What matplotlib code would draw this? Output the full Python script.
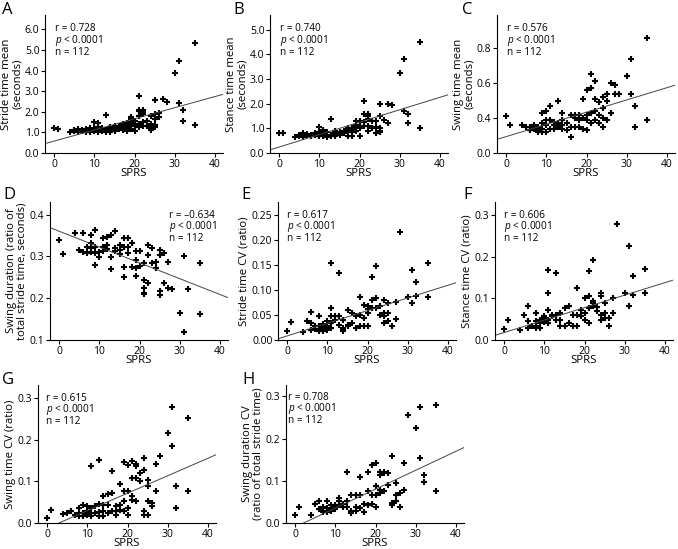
import numpy as np
import matplotlib
matplotlib.use('Agg')
import matplotlib.pyplot as plt

plt.rcParams['font.family'] = ['Open Sans', 'DejaVu Sans']
plt.rcParams['mathtext.fontset'] = 'custom'
plt.rcParams['mathtext.rm'] = 'Open Sans'
plt.rcParams['mathtext.it'] = 'Open Sans:italic'

##################### Data #####################

# A - stride time mean
A_x = [0, 1, 4, 5, 5, 6, 6, 6, 7, 7, 8, 8, 8, 8, 9, 9, 9, 9, 10, 10, 10, 10, 10,
       11, 11, 11, 11, 11, 12, 12, 12, 12, 13, 13, 13, 13, 14, 14, 14, 14, 14, 15, 15, 15, 15,
       16, 16, 16, 16, 17, 17, 17, 17, 18, 18, 18, 18, 18, 19, 19, 19, 19, 19, 20, 20, 20, 20,
       21, 21, 21, 21, 21, 21, 22, 22, 22, 22, 22, 23, 23, 24, 24, 24, 24, 25, 25, 25, 25, 25,
       26, 26, 27, 28, 30, 31, 31, 32, 32, 35, 35]
A_y = [1.2, 1.18, 1.02, 1.05, 1.12, 1.0, 1.08, 1.15, 1.05, 1.12, 1.0, 1.1, 1.05, 1.15, 1.08, 1.15, 1.02, 1.2, 1.1, 1.2, 1.5, 1.05, 1.15,
       1.15, 1.45, 1.08, 1.25, 1.02, 1.1, 1.05, 1.2, 1.15, 1.85, 1.12, 1.0, 1.05, 1.05, 1.15, 1.25, 1.1, 1.0, 1.1, 1.2, 1.05, 1.3,
       1.15, 1.25, 1.3, 1.2, 1.2, 1.4, 1.1, 1.3, 1.3, 1.05, 1.45, 1.2, 1.15, 1.65, 1.75, 1.5, 1.15, 1.4, 1.05, 1.4, 1.55, 1.3,
       2.75, 2.1, 1.8, 1.4, 1.25, 2.05, 2.0, 2.1, 1.9, 1.5, 1.3, 1.3, 1.55, 1.8, 1.4, 1.2, 1.1, 2.55, 1.25, 1.65, 1.9, 1.35,
       1.95, 1.75, 2.6, 2.5, 3.9, 4.45, 2.45, 2.1, 1.55, 5.35, 1.35]

# B - stance time mean
B_x = [0, 1, 4, 5, 5, 6, 6, 6, 7, 7, 8, 8, 8, 9, 9, 9, 10, 10, 10, 10,
       11, 11, 11, 11, 12, 12, 12, 13, 13, 13, 14, 14, 14, 14, 15, 15, 15, 16, 16, 16,
       17, 17, 17, 18, 18, 18, 18, 19, 19, 19, 19, 20, 20, 20, 20, 21, 21, 21, 21,
       22, 22, 22, 22, 22, 23, 23, 24, 24, 24, 25, 25, 25, 25, 25, 26, 27, 27, 28,
       30, 31, 31, 32, 32, 35, 35]
B_y = [0.8, 0.8, 0.65, 0.75, 0.7, 0.65, 0.75, 0.8, 0.72, 0.78, 0.7, 0.75, 0.68, 0.75, 0.8, 0.72, 1.05, 0.75, 0.85, 0.7,
       0.95, 0.8, 0.7, 0.75, 0.75, 0.65, 0.85, 1.38, 0.7, 0.75, 0.75, 0.9, 0.8, 0.7, 0.8, 0.85, 0.75, 0.85, 0.9, 0.8,
       0.95, 0.7, 1.0, 1.0, 0.95, 0.7, 0.85, 1.3, 1.15, 1.05, 0.9, 1.3, 1.0, 0.7, 1.1, 2.1, 1.6, 1.25, 1.1,
       1.6, 1.4, 1.5, 0.9, 1.1, 1.0, 1.3, 1.05, 0.8, 1.3, 2.0, 1.5, 0.9, 0.85, 1.0, 1.35, 2.0, 1.2, 1.95,
       3.25, 3.8, 1.7, 1.6, 1.2, 4.5, 1.0]

# C - swing time mean
C_x = [0, 1, 4, 5, 6, 6, 6, 7, 7, 8, 8, 8, 9, 9, 9, 9, 10, 10, 10, 10, 11, 11, 11,
       12, 12, 12, 13, 13, 13, 14, 14, 14, 14, 15, 15, 16, 16, 16, 17, 17, 17, 18, 18, 18,
       19, 19, 19, 20, 20, 20, 20, 21, 21, 21, 21, 22, 22, 22, 22, 23, 23, 23, 24, 24, 24, 24,
       25, 25, 25, 26, 26, 27, 27, 28, 30, 31, 31, 32, 32, 35, 35]
C_y = [0.41, 0.36, 0.36, 0.35, 0.33, 0.33, 0.35, 0.34, 0.36, 0.32, 0.35, 0.33, 0.43, 0.34, 0.37, 0.32,
       0.44, 0.36, 0.39, 0.32, 0.47, 0.39, 0.34, 0.38, 0.34, 0.36, 0.50, 0.35, 0.37, 0.43, 0.39, 0.34, 0.36,
       0.37, 0.33, 0.29, 0.42, 0.35, 0.42, 0.40, 0.35, 0.42, 0.39, 0.35, 0.51, 0.40, 0.34,
       0.56, 0.33, 0.42, 0.39, 0.57, 0.65, 0.43, 0.37, 0.61, 0.51, 0.44, 0.39, 0.49, 0.42, 0.37,
       0.46, 0.35, 0.40, 0.52, 0.54, 0.50, 0.39, 0.60, 0.43, 0.59, 0.54, 0.54, 0.64, 0.74, 0.54,
       0.47, 0.35, 0.86, 0.39]

# D - swing duration ratio
D_x = [0, 1, 4, 5, 6, 6, 7, 7, 8, 8, 8, 8, 9, 9, 9, 9, 10, 10, 11, 11, 11, 12, 12, 12,
       13, 13, 13, 14, 14, 14, 15, 15, 15, 16, 16, 16, 16, 17, 17, 17, 18, 18, 19, 19, 19, 19,
       20, 20, 21, 21, 21, 21, 21, 22, 22, 22, 23, 23, 24, 24, 25, 25, 25, 25, 26, 26,
       27, 27, 28, 30, 31, 31, 32, 35, 35]
D_y = [0.339, 0.306, 0.356, 0.315, 0.355, 0.311, 0.307, 0.323, 0.331, 0.319, 0.311, 0.351,
       0.363, 0.279, 0.323, 0.307, 0.298, 0.311, 0.343, 0.323, 0.313, 0.347, 0.327, 0.317,
       0.351, 0.269, 0.299, 0.361, 0.319, 0.313, 0.315, 0.327, 0.306, 0.274, 0.250, 0.345, 0.323,
       0.343, 0.323, 0.307, 0.333, 0.275, 0.291, 0.252, 0.313, 0.271, 0.313, 0.277,
       0.285, 0.244, 0.224, 0.212, 0.210, 0.327, 0.303, 0.236, 0.319, 0.285, 0.287, 0.271,
       0.315, 0.216, 0.208, 0.303, 0.307, 0.236, 0.287, 0.224, 0.221, 0.164, 0.301, 0.119,
       0.222, 0.283, 0.162]

# E - stride time CV
E_x = [0, 1, 4, 5, 6, 6, 6, 7, 7, 8, 8, 8, 8, 9, 9, 9, 10, 10, 10, 11, 11, 11, 11, 11,
       12, 12, 13, 13, 13, 14, 14, 14, 14, 15, 15, 15, 16, 16, 17, 17, 18, 18, 18, 19, 19, 19,
       20, 20, 20, 20, 21, 21, 21, 22, 22, 22, 23, 23, 24, 24, 24, 24, 25, 25, 25, 26,
       27, 27, 28, 30, 31, 31, 32, 32, 35, 35]
E_y = [0.018, 0.036, 0.016, 0.038, 0.056, 0.034, 0.021, 0.029, 0.023, 0.048, 0.028, 0.021, 0.018,
       0.033, 0.025, 0.018, 0.038, 0.028, 0.021, 0.154, 0.064, 0.048, 0.034, 0.025, 0.041, 0.049,
       0.135, 0.048, 0.031, 0.025, 0.018, 0.041, 0.021, 0.061, 0.031, 0.028, 0.054, 0.034,
       0.048, 0.025, 0.086, 0.051, 0.028, 0.071, 0.044, 0.028, 0.069, 0.054, 0.028, 0.062,
       0.127, 0.081, 0.064, 0.149, 0.064, 0.084, 0.051, 0.069, 0.081, 0.048, 0.034, 0.054,
       0.074, 0.054, 0.038, 0.028, 0.076, 0.042, 0.217, 0.086, 0.141, 0.074, 0.117, 0.088,
       0.154, 0.086]

# F - stance time CV
F_x = [0, 1, 4, 5, 6, 6, 6, 7, 8, 8, 8, 8, 9, 9, 9, 10, 10, 10, 11, 11, 11, 11, 11,
       12, 12, 13, 13, 13, 14, 14, 14, 15, 15, 16, 16, 17, 17, 18, 18, 18, 19, 19,
       20, 20, 20, 21, 21, 21, 21, 22, 22, 22, 22, 23, 23, 24, 24, 24, 24, 25, 25, 25,
       26, 26, 27, 27, 28, 30, 31, 31, 32, 32, 35, 35]
F_y = [0.027, 0.049, 0.024, 0.059, 0.081, 0.029, 0.045, 0.033, 0.065, 0.033, 0.045, 0.029,
       0.041, 0.029, 0.049, 0.053, 0.043, 0.057, 0.169, 0.113, 0.073, 0.049, 0.041, 0.057, 0.061,
       0.161, 0.061, 0.049, 0.065, 0.033, 0.049, 0.077, 0.033, 0.083, 0.041, 0.061, 0.033,
       0.125, 0.061, 0.033, 0.073, 0.057, 0.101, 0.049, 0.065, 0.167, 0.105, 0.077, 0.041,
       0.193, 0.089, 0.083, 0.093, 0.080, 0.069, 0.113, 0.105, 0.049, 0.061, 0.089, 0.065, 0.053,
       0.053, 0.033, 0.101, 0.065, 0.280, 0.113, 0.226, 0.081, 0.153, 0.109, 0.170, 0.113]

# G - swing time CV
G_x = [0, 1, 4, 5, 6, 6, 7, 8, 8, 8, 9, 9, 9, 10, 10, 10, 11, 11, 11, 11, 12, 12,
       13, 13, 13, 13, 14, 14, 14, 14, 15, 15, 15, 16, 16, 16, 17, 17, 17, 18, 18, 18,
       19, 19, 19, 19, 20, 20, 20, 20, 21, 21, 21, 21, 22, 22, 22, 22, 23, 23, 24, 24, 24, 24,
       25, 25, 25, 25, 26, 26, 27, 27, 28, 30, 31, 31, 32, 32, 35, 35]
G_y = [0.012, 0.032, 0.022, 0.024, 0.028, 0.030, 0.020, 0.036, 0.024, 0.018, 0.044, 0.024, 0.018,
       0.040, 0.030, 0.020, 0.136, 0.036, 0.024, 0.018, 0.040, 0.024, 0.152, 0.046, 0.026, 0.018,
       0.064, 0.044, 0.028, 0.016, 0.070, 0.044, 0.024, 0.124, 0.072, 0.028, 0.040, 0.028, 0.020,
       0.094, 0.044, 0.032, 0.146, 0.076, 0.052, 0.028, 0.140, 0.076, 0.036, 0.020,
       0.148, 0.108, 0.066, 0.056, 0.142, 0.136, 0.108, 0.054, 0.120, 0.102, 0.156, 0.128, 0.028, 0.020,
       0.104, 0.088, 0.052, 0.020, 0.048, 0.040, 0.142, 0.076, 0.160, 0.216, 0.278, 0.186,
       0.090, 0.036, 0.252, 0.078]

# H - swing duration CV
H_x = [0, 1, 4, 5, 6, 6, 7, 7, 7, 8, 8, 8, 9, 9, 9, 10, 10, 10, 11, 11, 11, 12, 12,
       13, 13, 13, 14, 14, 14, 15, 15, 15, 16, 16, 16, 17, 17, 18, 18, 18, 19, 19, 19,
       20, 20, 20, 20, 21, 21, 21, 21, 22, 22, 22, 23, 23, 24, 24, 24, 25, 25, 25, 26, 26,
       27, 27, 28, 30, 31, 31, 32, 32, 35, 35]
H_y = [0.018, 0.037, 0.020, 0.046, 0.051, 0.032, 0.026, 0.028, 0.039, 0.051, 0.036, 0.026,
       0.043, 0.032, 0.028, 0.043, 0.039, 0.034, 0.059, 0.043, 0.051, 0.039, 0.045,
       0.122, 0.051, 0.039, 0.067, 0.028, 0.024, 0.066, 0.039, 0.029, 0.110, 0.066, 0.036,
       0.045, 0.026, 0.122, 0.077, 0.043, 0.137, 0.067, 0.045, 0.142, 0.087, 0.037, 0.067,
       0.122, 0.079, 0.114, 0.071, 0.122, 0.118, 0.077, 0.118, 0.091, 0.158, 0.047, 0.043,
       0.095, 0.067, 0.053, 0.039, 0.071, 0.142, 0.079, 0.255, 0.225, 0.276, 0.154,
       0.113, 0.097, 0.280, 0.077]

# fitted lines as drawn (intercept, slope)
fit_lines = [(0.58, 0.054), (0.244, 0.0504), (0.294, 0.0070), (0.360, -0.00378),
             (0.0083, 0.00254), (0.018, 0.0030), (-0.0122, 0.0042), (-0.0093, 0.00448)]

r_values = ['0.728', '0.740', '0.576', '\u20130.634', '0.617', '0.606', '0.615', '0.708']
letters = ['A', 'B', 'C', 'D', 'E', 'F', 'G', 'H']
ylabels = ['Stride time mean\n(seconds)', 'Stance time mean\n(seconds)', 'Swing time mean\n(seconds)',
           'Swing duration (ratio of\ntotal stride time, seconds)', 'Stride time CV (ratio)',
           'Stance time CV (ratio)', 'Swing time CV (ratio)', 'Swing duration CV\n(ratio of total stride time)']

xs = [A_x, B_x, C_x, D_x, E_x, F_x, G_x, H_x]
ys = [A_y, B_y, C_y, D_y, E_y, F_y, G_y, H_y]

# y axis setup for each panel: limits, ticks, tick labels
ylims = [(0, 6.7), (0, 5.6), (0.2, 0.99), (0.1, 0.43), (0, 0.277), (0, 0.332), (0, 0.332), (0, 0.327)]
yticks = [[0, 1, 2, 3, 4, 5, 6], [0, 1, 2, 3, 4, 5], [0.2, 0.4, 0.6, 0.8], [0.1, 0.2, 0.3, 0.4],
          [0, 0.05, 0.10, 0.15, 0.20, 0.25], [0, 0.1, 0.2, 0.3], [0, 0.1, 0.2, 0.3], [0, 0.1, 0.2, 0.3]]
yticklabels = [['0.0', '1.0', '2.0', '3.0', '4.0', '5.0', '6.0'], ['0.0', '1.0', '2.0', '3.0', '4.0', '5.0'],
               ['0.0', '0.4', '0.6', '0.8'], ['0.1', '0.2', '0.3', '0.4'],
               ['0.00', '0.05', '0.10', '0.15', '0.20', '0.25'], ['0.0', '0.1', '0.2', '0.3'],
               ['0.0', '0.1', '0.2', '0.3'], ['0.0', '0.1', '0.2', '0.3']]

################# Layout (pixels) #########################

W, H = 678, 549
# left edge, top edge of each axes in pixels
pos = [(45, 15), (270, 15), (497, 15), (50, 202), (278, 202), (495, 202), (38, 385), (286, 385)]
ax_w, ax_h = 178, 138
letter_pos = [(2, 2), (233, 2), (462, 2), (3, 187), (241, 187), (463, 187), (2, 372), (242, 372)]
text_pos = [(0.056, 0.90), (0.056, 0.90), (0.056, 0.90), (0.67, 0.905), (0.05, 0.905),
            (0.05, 0.905), (0.047, 0.905), (0.012, 0.912)]
line_step = 0.085

fig = plt.figure(figsize=(W / 100, H / 100), dpi=100)

for i in range(8):
    l, t = pos[i]
    ax = fig.add_axes([l / W, 1 - (t + ax_h) / H, ax_w / W, ax_h / H])
    ax.plot(xs[i], ys[i], '+', color='black', ms=4.8, mew=1.5, linestyle='none')

    xl = np.array([-2.3, 42])
    b, m = fit_lines[i]
    ax.plot(xl, b + m * xl, color='#444444', lw=0.7)

    ax.set_xlim(-2.3, 42)
    ax.set_ylim(ylims[i])
    ax.set_xticks([0, 10, 20, 30, 40])
    ax.set_yticks(yticks[i])
    ax.set_yticklabels(yticklabels[i])
    ax.spines['top'].set_visible(False)
    ax.spines['right'].set_visible(False)
    for s in ['left', 'bottom']:
        ax.spines[s].set_linewidth(0.8)
    ax.tick_params(direction='out', length=3, width=0.8, labelsize=7.5, pad=1)
    ax.set_xlabel('SPRS', fontsize=8.2, labelpad=-1)
    ax.set_ylabel(ylabels[i], fontsize=8.2, labelpad=1.5, linespacing=1.0)

    tx, ty = text_pos[i]
    ax.text(tx, ty, 'r = ' + r_values[i], transform=ax.transAxes, fontsize=7.2, va='center')
    ax.text(tx, ty - line_step, r'$p$ < 0.0001', transform=ax.transAxes, fontsize=7.2, va='center')
    ax.text(tx, ty - 2 * line_step, 'n = 112', transform=ax.transAxes, fontsize=7.2, va='center')

    lx, ly = letter_pos[i]
    fig.text(lx / W, 1 - ly / H, letters[i], fontsize=12, va='top', ha='left')

plt.savefig('out.png', dpi=100)
